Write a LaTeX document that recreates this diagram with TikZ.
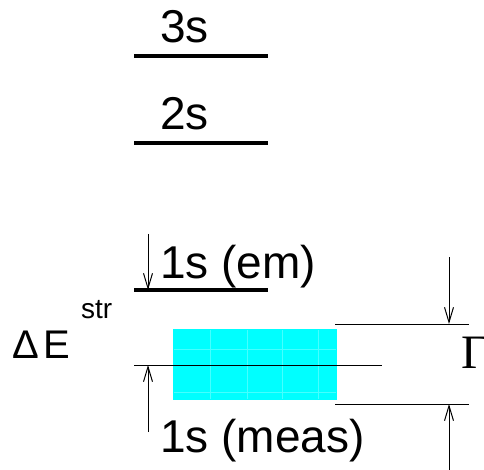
\documentclass[tikz,border=0pt]{standalone}
\usepackage{fontspec}
\setmainfont{Liberation Sans}
\newfontfamily\serifgamma{Liberation Serif}
\usetikzlibrary{arrows.meta}
\definecolor{bandcyan}{RGB}{0,255,255}
\definecolor{bandgrid}{RGB}{70,255,255}
\tikzset{
  level/.style={line width=3.5pt},
  thinline/.style={line width=1pt},
  dimarrow/.style={line width=1pt,-{Straight Barb[length=15pt,width=9pt,line width=1pt]}},
  lbl/.style={inner sep=0pt,anchor=base west,font=\fontsize{46}{50}\selectfont},
  gridln/.style={line width=0.5pt,draw=bandgrid}
}
\begin{document}
\begin{tikzpicture}[x=1pt,y=-1pt]
\useasboundingbox (0,0) rectangle (484,470);
% levels
\coordinate (l3a) at (134,56); \coordinate (l3b) at (268,56);
\coordinate (l2a) at (134,143); \coordinate (l2b) at (268,143);
\coordinate (l1a) at (134,290); \coordinate (l1b) at (268,290);
\draw[level] (l3a) -- (l3b);
\draw[level] (l2a) -- (l2b);
\draw[level] (l1a) -- (l1b);
\node[lbl] (t3) at (160,43) {3s};
\node[lbl] (t2) at (160,130) {2s};
\node[lbl] (t1em) at (160,278) {1s (em)};
\node[lbl] (t1meas) at (160,452) {1s (meas)};
% measured band
\fill[bandcyan] (173,329) rectangle (337,400);
\foreach \xx in {210,247,282,318} \draw[gridln] (\xx,330) -- (\xx,399);
\draw[gridln] (174,349) -- (336,349);
\draw[gridln] (174,392) -- (336,392);
\coordinate (ma) at (134,365); \coordinate (mb) at (382,365);
\draw[thinline] (ma) -- (mb);
% Delta E arrows
\coordinate (dtop) at (148,234); \coordinate (dtip) at (148,290);
\coordinate (ubot) at (148,432); \coordinate (utip) at (148,365);
\draw[dimarrow] (dtop) -- (dtip);
\draw[dimarrow] (ubot) -- (utip);
\node[inner sep=0pt,anchor=base west,font=\fontsize{40}{44}\selectfont] (dE) at (12,358) {Δ\kern5pt E};
\node[inner sep=0pt,anchor=base west,font=\fontsize{28}{30}\selectfont] (str) at (81,318) {str};
% Gamma
\coordinate (ga) at (335,324); \coordinate (gb) at (469,324);
\coordinate (gc) at (335,404); \coordinate (gd) at (469,404);
\draw[thinline] (ga) -- (gb);
\draw[thinline] (gc) -- (gd);
\coordinate (rtop) at (449,257); \coordinate (rtip) at (449,324);
\coordinate (rbot) at (449,470); \coordinate (rtip2) at (449,404);
\draw[dimarrow] (rtop) -- (rtip);
\draw[dimarrow] (rbot) -- (rtip2);
\node[inner sep=0pt,anchor=base west,font=\serifgamma\fontsize{48}{52}\selectfont] (gam) at (461,368) {Γ};
\end{tikzpicture}
\end{document}
